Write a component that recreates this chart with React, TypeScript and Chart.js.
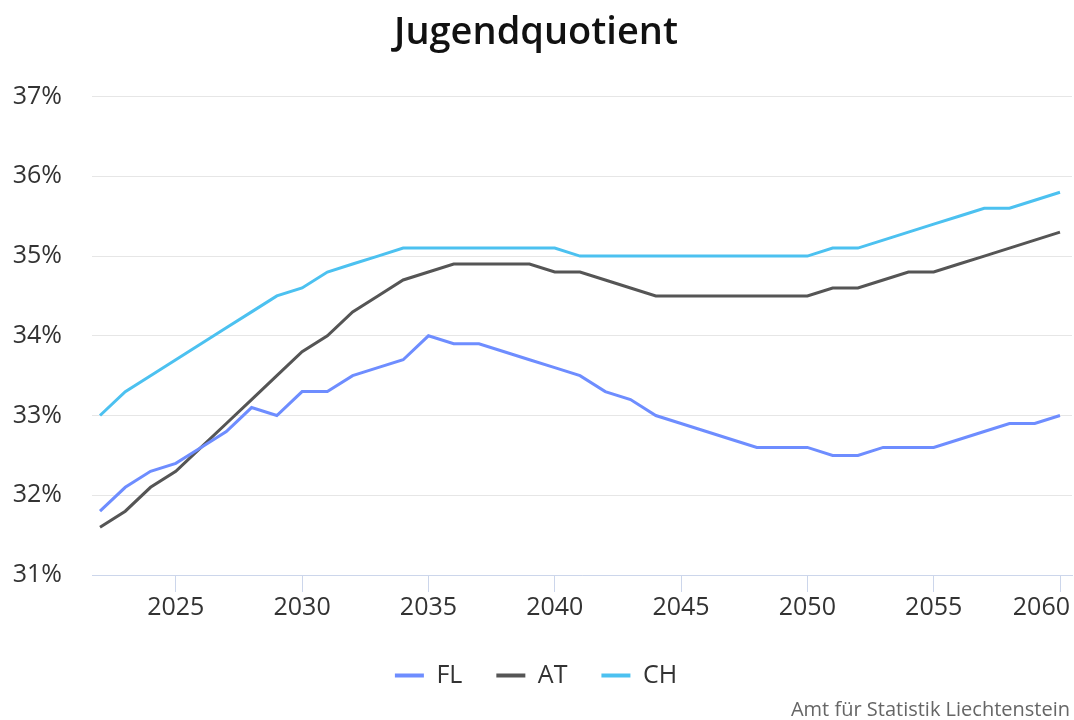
import React, { useEffect, useRef } from "react";
import { Chart, registerables } from "chart.js";

Chart.register(...registerables);

const years = [
  2022, 2023, 2024, 2025, 2026, 2027, 2028, 2029, 2030, 2031, 2032, 2033, 2034,
  2035, 2036, 2037, 2038, 2039, 2040, 2041, 2042, 2043, 2044, 2045, 2046, 2047,
  2048, 2049, 2050, 2051, 2052, 2053, 2054, 2055, 2056, 2057, 2058, 2059, 2060,
];

const fl = [
  31.8, 32.1, 32.3, 32.4, 32.6, 32.8, 33.1, 33.0, 33.3, 33.3, 33.5, 33.6, 33.7,
  34.0, 33.9, 33.9, 33.8, 33.7, 33.6, 33.5, 33.3, 33.2, 33.0, 32.9, 32.8, 32.7,
  32.6, 32.6, 32.6, 32.5, 32.5, 32.6, 32.6, 32.6, 32.7, 32.8, 32.9, 32.9, 33.0,
];

const at = [
  31.6, 31.8, 32.1, 32.3, 32.6, 32.9, 33.2, 33.5, 33.8, 34.0, 34.3, 34.5, 34.7,
  34.8, 34.9, 34.9, 34.9, 34.9, 34.8, 34.8, 34.7, 34.6, 34.5, 34.5, 34.5, 34.5,
  34.5, 34.5, 34.5, 34.6, 34.6, 34.7, 34.8, 34.8, 34.9, 35.0, 35.1, 35.2, 35.3,
];

const ch = [
  33.0, 33.3, 33.5, 33.7, 33.9, 34.1, 34.3, 34.5, 34.6, 34.8, 34.9, 35.0, 35.1,
  35.1, 35.1, 35.1, 35.1, 35.1, 35.1, 35.0, 35.0, 35.0, 35.0, 35.0, 35.0, 35.0,
  35.0, 35.0, 35.0, 35.1, 35.1, 35.2, 35.3, 35.4, 35.5, 35.6, 35.6, 35.7, 35.8,
];

const xTicks = [2025, 2030, 2035, 2040, 2045, 2050, 2055, 2060];
const yTicks = [31, 32, 33, 34, 35, 36, 37];

const seriesNames = ["FL", "AT", "CH"];
const seriesColors = ["#6e8dff", "#555555", "#4cc1f0"];

const titleText = "Jugendquotient";
const creditText = "Amt für Statistik Liechtenstein";

const FONT = "'Open Sans', 'Noto Sans', sans-serif";

export default function App() {
  const ref = useRef<HTMLCanvasElement | null>(null);

  useEffect(() => {
    document.body.style.margin = "0";
    const canvas = ref.current;
    if (!canvas) return;

    const seriesData = [fl, at, ch];

    const xLabelPlugin = {
      id: "xLabelPlugin",
      afterDraw(chart: any) {
        const ctx = chart.ctx;
        const xs = chart.scales.x;
        ctx.save();
        ctx.font = `25px ${FONT}`;
        ctx.fillStyle = "#333333";
        ctx.textBaseline = "alphabetic";
        ctx.textAlign = "left";
        xs.ticks.forEach((t: any) => {
          const label = String(t.value);
          const w = ctx.measureText(label).width;
          let left = xs.getPixelForValue(t.value) - w / 2;
          if (left + w > chart.width - 4) left = chart.width - 4 - w;
          ctx.fillText(label, left, chart.chartArea.bottom + 40);
        });
        ctx.font = `20px ${FONT}`;
        ctx.fillStyle = "#666666";
        ctx.textAlign = "right";
        ctx.fillText(creditText, chart.width - 4, chart.height - 4);
        ctx.restore();
      },
    };

    const chart = new Chart(canvas, {
      type: "line",
      data: {
        datasets: seriesNames.map((name, i) => ({
          label: name,
          data: years.map((y, j) => ({ x: y, y: seriesData[i][j] })),
          borderColor: seriesColors[i],
          backgroundColor: seriesColors[i],
          borderWidth: 3,
          pointRadius: 0,
          tension: 0,
        })),
      },
      plugins: [xLabelPlugin],
      options: {
        animation: false,
        responsive: false,
        layout: { padding: { top: 0, right: 2, bottom: 22, left: 0 } },
        plugins: {
          title: {
            display: true,
            text: titleText,
            color: "#111111",
            font: { family: FONT, size: 38, weight: "600", lineHeight: 1.2 },
            padding: { top: 10, bottom: 41 },
          },
          legend: {
            position: "bottom",
            labels: {
              color: "#333333",
              font: { family: FONT, size: 25 },
              boxWidth: 29,
              boxHeight: 4,
              padding: 34,
              generateLabels(c: any) {
                const items = Chart.defaults.plugins.legend.labels.generateLabels(c);
                items.forEach((it: any) => {
                  it.lineWidth = 0;
                });
                return items;
              },
            },
          },
          tooltip: { enabled: false },
        },
        scales: {
          x: {
            type: "linear",
            min: 2021.683,
            max: 2060.475,
            afterBuildTicks(s: any) {
              s.ticks = xTicks.map((v) => ({ value: v }));
            },
            afterFit(s: any) {
              s.height = 54;
              s.paddingLeft = 0;
              s.paddingRight = 0;
            },
            grid: {
              drawOnChartArea: false,
              drawTicks: true,
              tickLength: 17,
              color: "#ccd6eb",
              lineWidth: 1,
            },
            border: { display: true, color: "#ccd6eb", width: 1 },
            ticks: { display: false },
          },
          y: {
            min: 31,
            max: 37,
            afterBuildTicks(s: any) {
              s.ticks = yTicks.map((v) => ({ value: v }));
            },
            afterFit(s: any) {
              s.width = 92;
            },
            grid: { color: "#e6e6e6", lineWidth: 1, drawTicks: false },
            border: { display: false },
            ticks: {
              padding: 30,
              color: "#333333",
              font: { family: FONT, size: 25 },
              callback: (v: any) => `${v}%`,
            },
          },
        },
      },
    } as any);

    return () => chart.destroy();
  }, []);

  return (
    <div style={{ position: "absolute", left: 0, top: 0, width: 1074, height: 720 }}>
      <canvas ref={ref} width={1074} height={720} style={{ width: 1074, height: 720 }} />
    </div>
  );
}
